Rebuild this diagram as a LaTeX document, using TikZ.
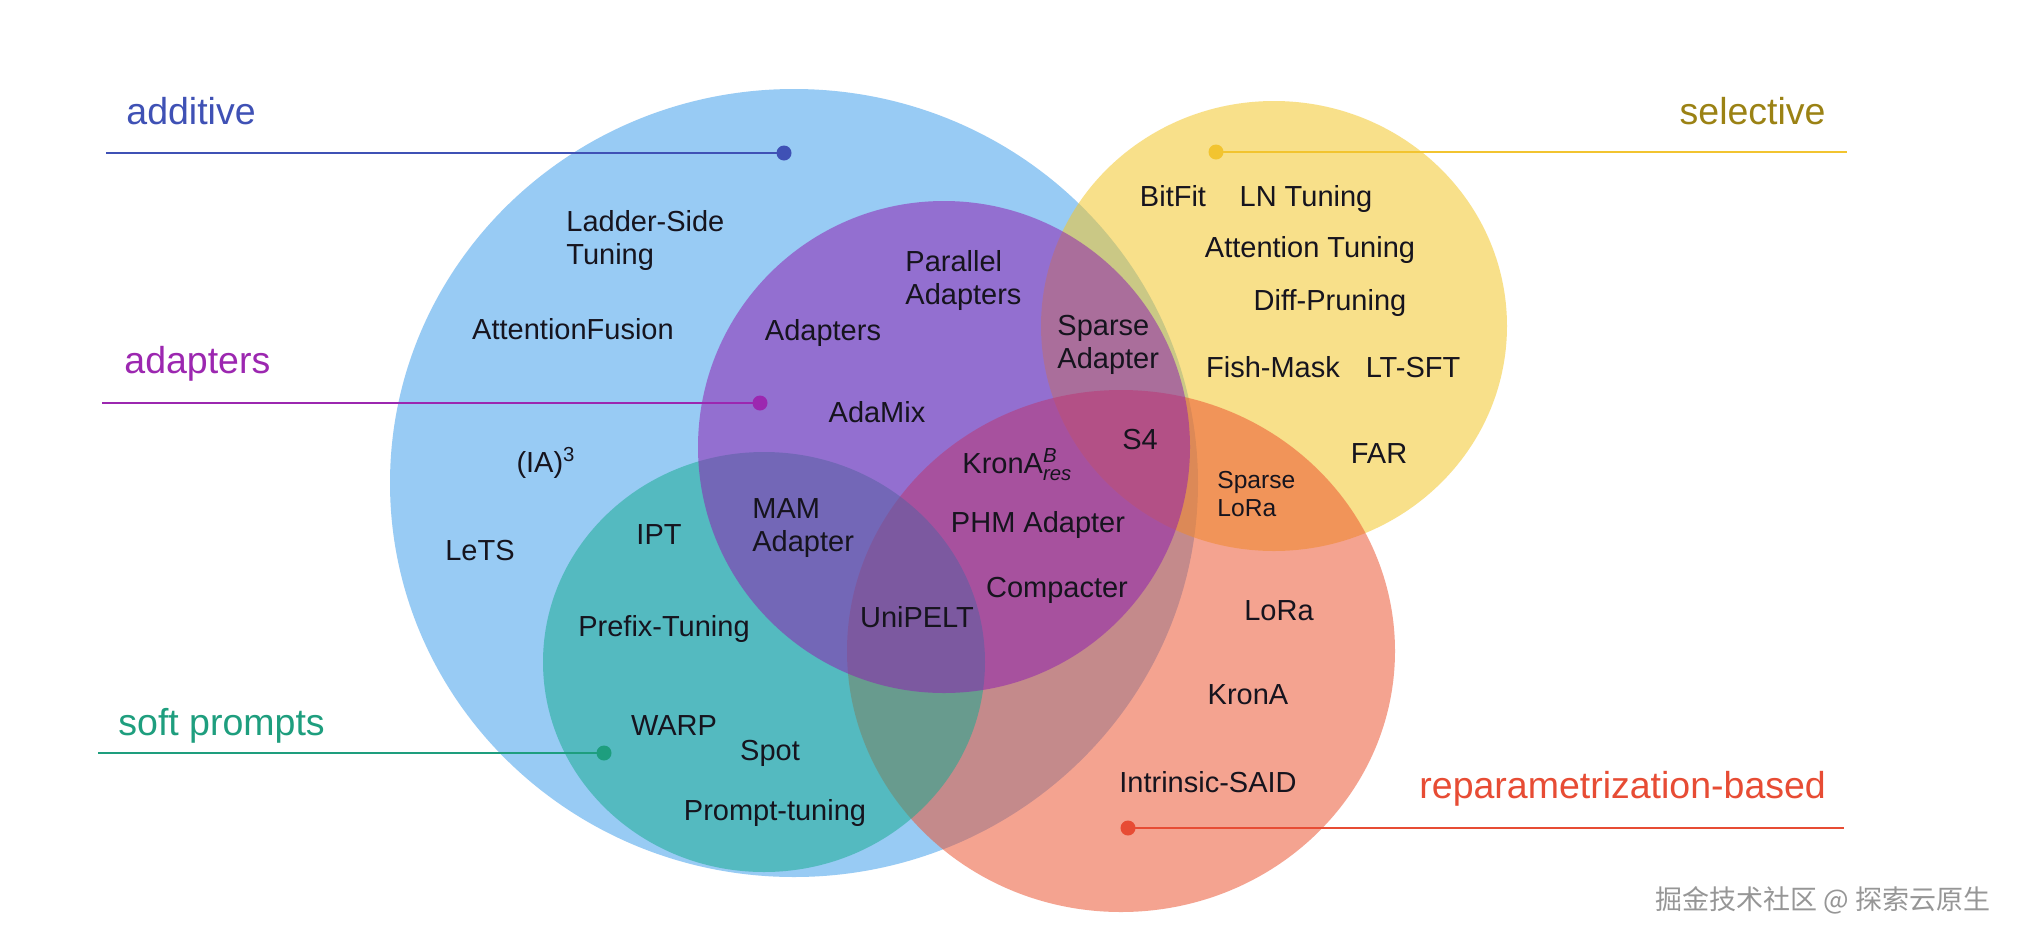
\documentclass[tikz,border=0pt]{standalone}
\usepackage{amsmath}
\usepackage{fontspec}
\setmainfont{Liberation Sans}
\newfontfamily\cjkfont{Noto Sans CJK SC}
\definecolor{cBlue}{RGB}{152,203,244}
\definecolor{cYel}{RGB}{244,199,42}
\definecolor{cRed}{RGB}{236,82,47}
\definecolor{cTeal}{RGB}{24,171,146}
\definecolor{cPur}{RGB}{143,31,176}
\definecolor{ink}{RGB}{22,20,30}
\definecolor{lAdd}{RGB}{63,81,181}
\definecolor{lAdp}{RGB}{156,39,176}
\definecolor{lSelLine}{RGB}{242,196,48}
\definecolor{lSelText}{RGB}{155,130,20}
\definecolor{lSoft}{RGB}{30,158,126}
\definecolor{lRep}{RGB}{231,76,52}
\definecolor{wm}{RGB}{150,150,150}
\begin{document}
\begin{tikzpicture}[x=0.5pt,y=-0.5pt,
  lbl/.style={inner sep=0pt, text height=10.4pt, text depth=0pt, font=\fontsize{14.5}{16.5}\selectfont, text=ink},
  lbltwo/.style={inner sep=0pt, align=left, anchor=west, font=\fontsize{14.5}{16.5}\selectfont, text=ink},
  lblsmall/.style={inner sep=0pt, align=left, anchor=west, font=\fontsize{12.3}{14}\selectfont, text=ink},
  cat/.style={inner sep=0pt, anchor=base west, font=\fontsize{18.75}{22}\selectfont},
  dotmark/.style={circle, inner sep=0pt, minimum size=7.5pt},
  lead/.style={line width=1.3pt}]
\fill[white] (0,0) rectangle (2020,938);
\useasboundingbox (0,0) rectangle (2020,938);
% sets
\fill[cBlue] (794,483) ellipse [x radius=202pt, y radius=197pt];
\fill[cYel, fill opacity=0.55] (1274,326) ellipse [x radius=116.5pt, y radius=112.5pt];
\fill[cRed, fill opacity=0.53] (1121,651) ellipse [x radius=137pt, y radius=130.5pt];
\fill[cTeal, fill opacity=0.53] (764,662) ellipse [x radius=110.5pt, y radius=105pt];
\fill[cPur, fill opacity=0.53] (944,447) circle [radius=123pt];
% category labels and leaders
\node[cat, text=lAdd] (tAdd) at (126,124) {additive};
\node[dotmark, fill=lAdd] (dAdd) at (784,153) {};
\coordinate (eAdd) at (106,153);
\draw[lead, lAdd] (eAdd) -- (dAdd.center);

\node[cat, anchor=base east, text=lSelText] (tSel) at (1826,124) {selective};
\node[dotmark, fill=lSelLine] (dSel) at (1216,152) {};
\coordinate (eSel) at (1847,152);
\draw[lead, lSelLine] (dSel.center) -- (eSel);

\node[cat, text=lAdp] (tAdp) at (124,373) {adapters};
\node[dotmark, fill=lAdp] (dAdp) at (760,403) {};
\coordinate (eAdp) at (102,403);
\draw[lead, lAdp] (eAdp) -- (dAdp.center);

\node[cat, text=lSoft] (tSoft) at (118,735) {soft prompts};
\node[dotmark, fill=lSoft] (dSoft) at (604,753) {};
\coordinate (eSoft) at (98,753);
\draw[lead, lSoft] (eSoft) -- (dSoft.center);

\node[cat, text=lRep] (tRep) at (1419,798) {reparametrization-based};
\node[dotmark, fill=lRep] (dRep) at (1128,828) {};
\coordinate (eRep) at (1844,828);
\draw[lead, lRep] (dRep.center) -- (eRep);
% method labels
\node[lbltwo] (n1) at (566,240) {Ladder-Side\\Tuning};
\node[lbl] (n2) at (573,329) {AttentionFusion};
\node[lbltwo] (n3) at (905,280) {Parallel\\Adapters};
\node[lbl] (n4) at (823,330) {Adapters};
\node[lbl] (n5) at (877,412) {AdaMix};
\node[lbl] (n6) at (546,462) {(IA)\textsuperscript{3}};
\node[lbl] (n7) at (480,550) {LeTS};
\node[lbl] (n8) at (659,534) {IPT};
\node[lbltwo] (n9) at (752,528) {MAM\\Adapter};
\node[lbl] (n10) at (664,626) {Prefix-Tuning};
\node[lbl] (n11) at (917,617) {UniPELT};
\node[lbl] (n12) at (674,725) {WARP};
\node[lbl] (n13) at (770,750) {Spot};
\node[lbl] (n14) at (775,810) {Prompt-tuning};
\node[lbl] (n15) at (1057,587) {Compacter};
\node[lbl] (n16) at (1038,522) {PHM Adapter};
\node[lbl, anchor=west] (n17) at (962,463) {KronA$^{\textit{B}}_{\textit{res}}$};
\node[lbl] (n18) at (1140,439) {S4};
\node[lbltwo] (n19) at (1057,345) {Sparse\\Adapter};
\node[lblsmall] (n20) at (1217,494) {Sparse\\LoRa};
\node[lbl] (n21) at (1173,196) {BitFit};
\node[lbl] (n22) at (1306,196) {LN Tuning};
\node[lbl] (n23) at (1310,247) {Attention Tuning};
\node[lbl] (n24) at (1330,300) {Diff-Pruning};
\node[lbl] (n25) at (1273,367) {Fish-Mask};
\node[lbl] (n26) at (1413,367) {LT-SFT};
\node[lbl] (n27) at (1379,453) {FAR};
\node[lbl] (n28) at (1279,610) {LoRa};
\node[lbl] (n29) at (1248,694) {KronA};
\node[lbl] (n30) at (1208,782) {Intrinsic-SAID};
% watermark
\node[inner sep=0pt, text=wm, font=\cjkfont\fontsize{13.5}{15}\selectfont] (wmk) at (1823,900) {掘金技术社区 @ 探索云原生};
\end{tikzpicture}
\end{document}
